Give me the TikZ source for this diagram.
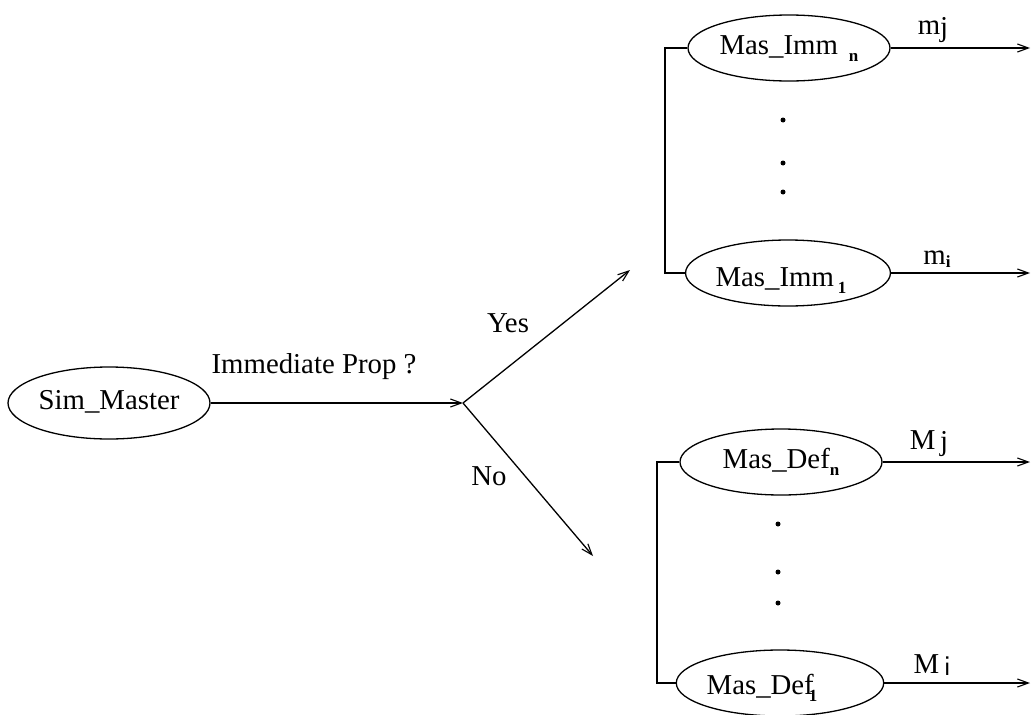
\documentclass[tikz,border=0pt]{standalone}
\usepackage{fontspec}
\setmainfont{Liberation Serif}
\usetikzlibrary{shapes.geometric,arrows.meta}
\newcommand{\lowsub}[1]{\raisebox{-7pt}[0pt][0pt]{\fontsize{17}{17}\selectfont\bfseries #1}}
\begin{document}
\begin{tikzpicture}[x=1pt,y=-1pt,
  every node/.style={font=\fontsize{28.8}{30}\selectfont},
  oval/.style={draw, ellipse, line width=1.3pt, minimum width=202pt, minimum height=66pt, inner sep=0pt, text height=19pt, text depth=6pt},
  conn/.style={line width=1.3pt},
  arr/.style={conn, -{Straight Barb[length=11pt,width=8pt,line width=1.1pt]}},
  lbl/.style={inner sep=0pt},
  dotmark/.style={circle, fill=black, minimum size=5pt, inner sep=0pt}]
\useasboundingbox (0,0) rectangle (1031,715);

\node[oval, minimum height=72pt] (sim) at (109,403) {Sim\_Master};
\coordinate (jn) at (463,403);
\coordinate (yesend) at (630,270);
\coordinate (noend) at (593,556);
\draw[arr] (sim.east) -- (jn);
\draw[arr] (jn) -- (yesend);
\draw[arr] (jn) -- (noend);
\node[lbl] (qlbl) at (314,367) {Immediate Prop ?};
\node[lbl] (yeslbl) at (508,323) {Yes};
\node[lbl] (nolbl) at (489,476) {No};

% upper group
\node[oval] (immn) at (789,48) {Mas\_Imm\hspace{11pt}\lowsub{n}};
\node[oval] (imm1) at (788,273) {\raisebox{-7pt}{Mas\_Imm\hspace{4pt}\lowsub{1}\hspace{14pt}}};
\coordinate (outj) at (1030,48);
\coordinate (outi) at (1030,273);
\draw[arr] (immn.east) -- (outj);
\draw[arr] (imm1.east) -- (outi);
\node[lbl] (mj) at (933,30) {m\raisebox{-2pt}{j}};
\node[lbl] (mi) at (937,259) {m\raisebox{-3pt}{\fontsize{17}{17}\selectfont\bfseries i}};
\draw[conn] (immn.west) -| (665,160) |- (imm1.west);
\node[dotmark] (d1) at (783,120) {};
\node[dotmark] (d2) at (783,163) {};
\node[dotmark] (d3) at (783,192) {};

% lower group
\node[oval] (defn) at (781,462) {Mas\_Def\lowsub{n}\hspace{38pt}};
\node[oval] (def1) at (780,683) {\raisebox{-5pt}{Mas\_Def\hspace{-5pt}\lowsub{1}\hspace{36pt}}};
\coordinate (outJ) at (1030,462);
\coordinate (outI) at (1030,683);
\draw[arr] (defn.east) -- (outJ);
\draw[arr] (def1.east) -- (outI);
\node[lbl] (Mj) at (929,444) {M\,\raisebox{-1pt}{j}};
\node[lbl] (Mi) at (932,665) {M\,\raisebox{-2pt}{\fontfamily{lmss}\selectfont i}};
\draw[conn] (defn.west) -| (657,570) |- (def1.west);
\node[dotmark] (d4) at (778,524) {};
\node[dotmark] (d5) at (778,572) {};
\node[dotmark] (d6) at (778,603) {};
\end{tikzpicture}
\end{document}
